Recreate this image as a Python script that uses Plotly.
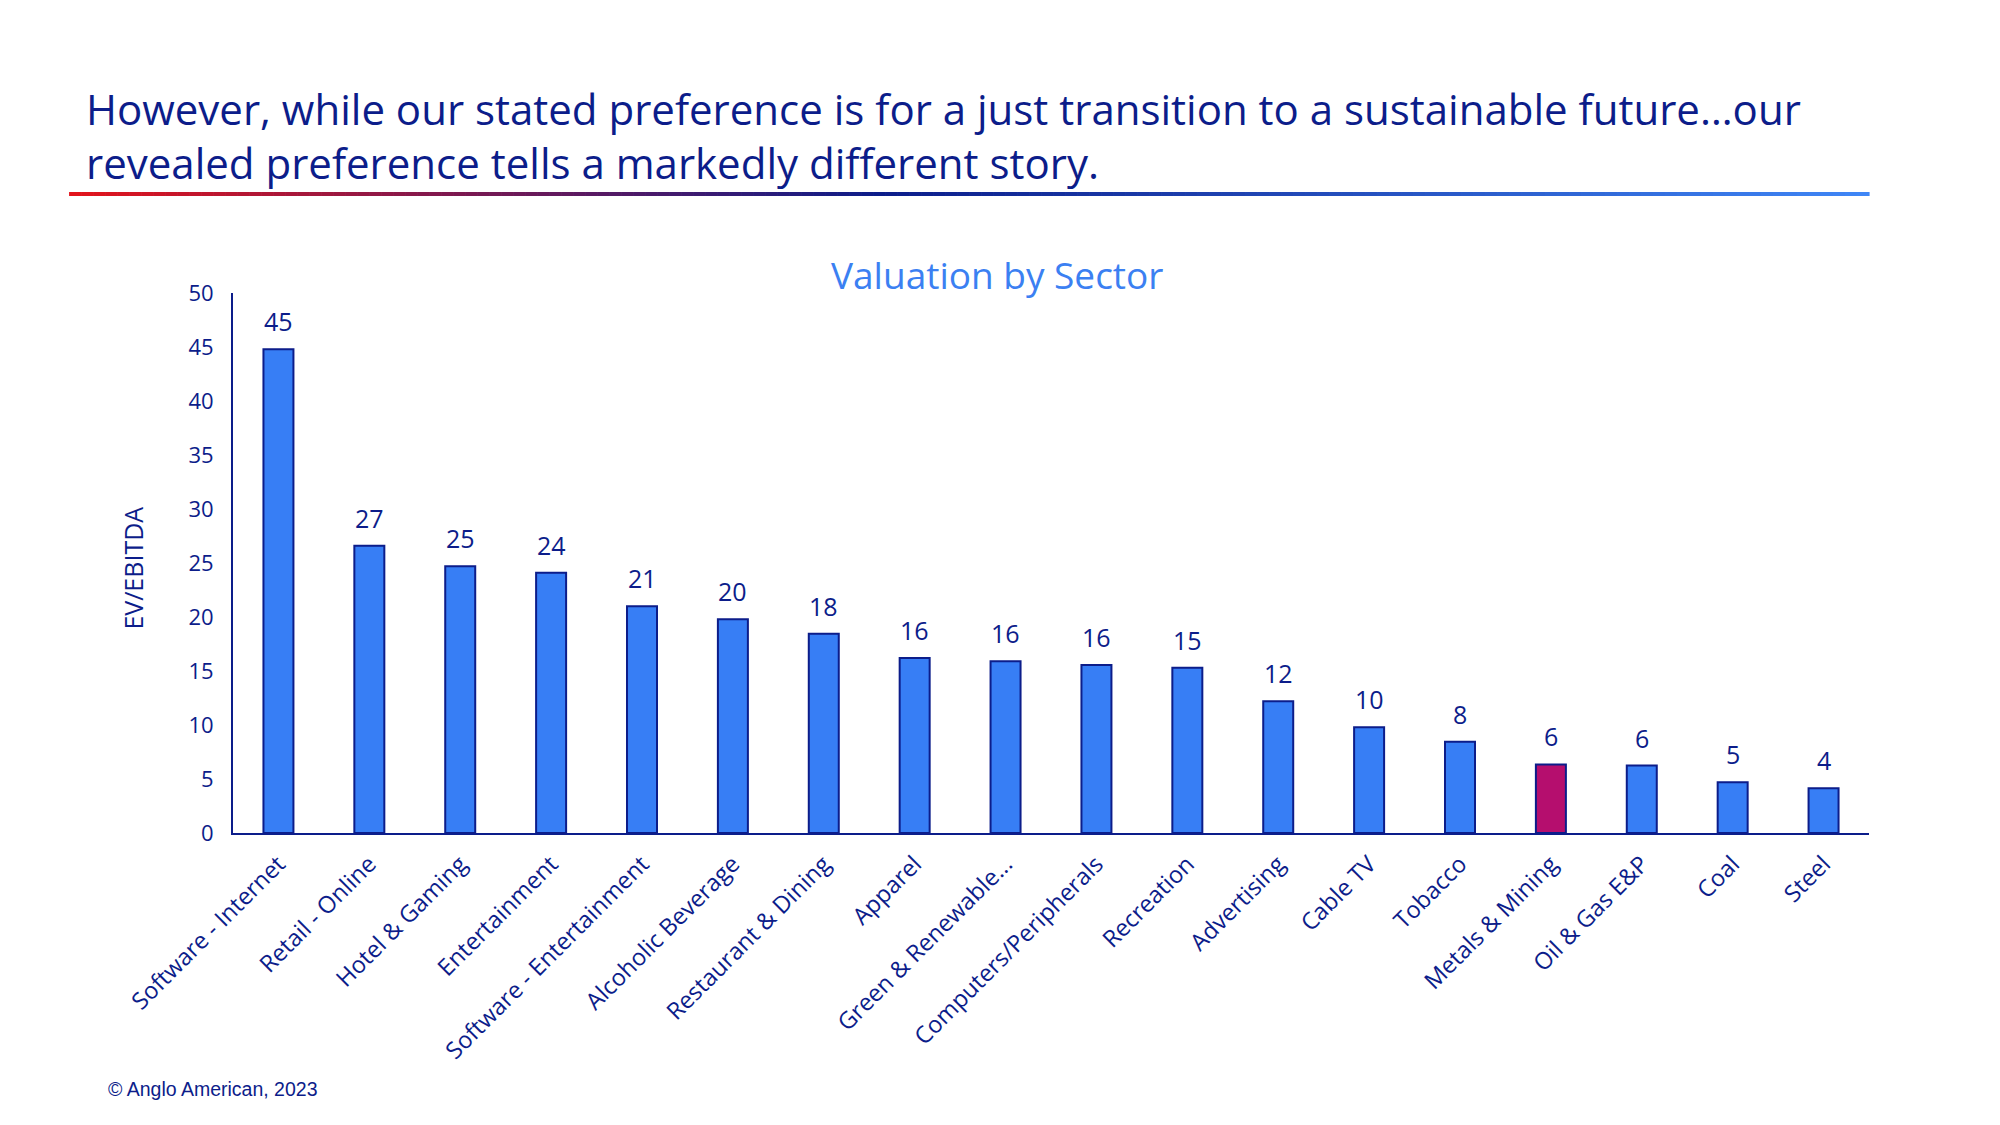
import plotly.graph_objects as go

categories = ["Software - Internet", "Retail - Online", "Hotel & Gaming", "Entertainment",
              "Software - Entertainment", "Alcoholic Beverage", "Restaurant & Dining", "Apparel",
              "Green & Renewable...", "Computers/Peripherals", "Recreation", "Advertising",
              "Cable TV", "Tobacco", "Metals & Mining", "Oil & Gas E&P", "Coal", "Steel"]
ev_ebitda = [44.8, 26.6, 24.7, 24.1, 21.0, 19.8, 18.45, 16.2, 15.9, 15.55, 15.3, 12.2,
             9.8, 8.45, 6.35, 6.25, 4.7, 4.15]
y_ticks = [0, 5, 10, 15, 20, 25, 30, 35, 40, 45, 50]
highlight = "Metals & Mining"

NAVY = "#0c1d8a"
BLUE = "#377ef5"
MAGENTA = "#b50e6e"
FONT = "Open Sans"

colors = [MAGENTA if c == highlight else BLUE for c in categories]

fig = go.Figure()
fig.add_trace(go.Bar(
    x=categories, y=ev_ebitda,
    marker=dict(color=colors, line=dict(color=NAVY, width=2)),
    hoverinfo="x+y",
))

annotations = []
for c, v in zip(categories, ev_ebitda):
    annotations.append(dict(x=c, y=v, xref="x", yref="y", text=f"{round(v)}", showarrow=False,
                            yanchor="bottom", yshift=9,
                            font=dict(family=FONT, size=25, color=NAVY)))

# Titles and texts
annotations += [
    dict(x=-0.0911, y=1.341, xref="paper", yref="paper", xanchor="left", yanchor="middle",
         text="However, while our stated preference is for a just transition to a sustainable future…our",
         showarrow=False, font=dict(family=FONT, size=42, color=NAVY)),
    dict(x=-0.0911, y=1.241, xref="paper", yref="paper", xanchor="left", yanchor="middle",
         text="revealed preference tells a markedly different story.",
         showarrow=False, font=dict(family=FONT, size=42, color=NAVY)),
    dict(x=0.467, y=1.035, xref="paper", yref="paper", xanchor="center", yanchor="middle",
         text="Valuation by Sector", showarrow=False,
         font=dict(family=FONT, size=37, color="#3b80f2")),
    dict(x=-0.061, y=0.49, xref="paper", yref="paper", xanchor="center", yanchor="middle",
         text="EV/EBITDA", textangle=-90, showarrow=False,
         font=dict(family=FONT, size=25, color=NAVY)),
    dict(x=-0.0776, y=-0.474, xref="paper", yref="paper", xanchor="left", yanchor="middle",
         text="© Anglo American, 2023", showarrow=False,
         font=dict(family="Liberation Sans", size=19.5, color=NAVY)),
]

# Gradient rule under the headline (decorative)
def hex2rgb(h):
    h = h.lstrip("#")
    return tuple(int(h[i:i + 2], 16) for i in (0, 2, 4))

stops = [(0.0, hex2rgb("#e2141c")), (0.45, hex2rgb("#0c1d8a")), (1.0, hex2rgb("#3f86f6"))]

def grad(t):
    for (t0, c0), (t1, c1) in zip(stops[:-1], stops[1:]):
        if t <= t1:
            f = (t - t0) / (t1 - t0)
            return "rgb(%d,%d,%d)" % tuple(round(a + (b - a) * f) for a, b in zip(c0, c1))
    return "rgb(%d,%d,%d)" % stops[-1][1]

shapes = []
x0, x1, n = -0.1002, 1.0, 150
for i in range(n):
    a = x0 + (x1 - x0) * i / n
    b = x0 + (x1 - x0) * (i + 1.05) / n
    shapes.append(dict(type="line", xref="paper", yref="paper", x0=a, x1=b, y0=1.1833, y1=1.1833,
                       line=dict(color=grad(i / (n - 1)), width=4)))

fig.update_layout(
    width=2000, height=1125,
    margin=dict(l=225, r=139, t=285, b=300),
    paper_bgcolor="white", plot_bgcolor="white",
    bargap=0.67, showlegend=False,
    annotations=annotations, shapes=shapes,
    font=dict(family=FONT, color=NAVY),
    xaxis=dict(showline=True, linecolor=NAVY, linewidth=2, showgrid=False, ticks="",
               tickangle=-45, ticklabelstandoff=6,
               tickfont=dict(family=FONT, size=23.5, color=NAVY)),
    yaxis=dict(range=[0, 50], tickvals=y_ticks, showline=True, linecolor=NAVY, linewidth=2,
               showgrid=False, zeroline=False, ticks="", ticklabelstandoff=13,
               tickfont=dict(family=FONT, size=22, color=NAVY)),
)

fig.write_html("out.html")
